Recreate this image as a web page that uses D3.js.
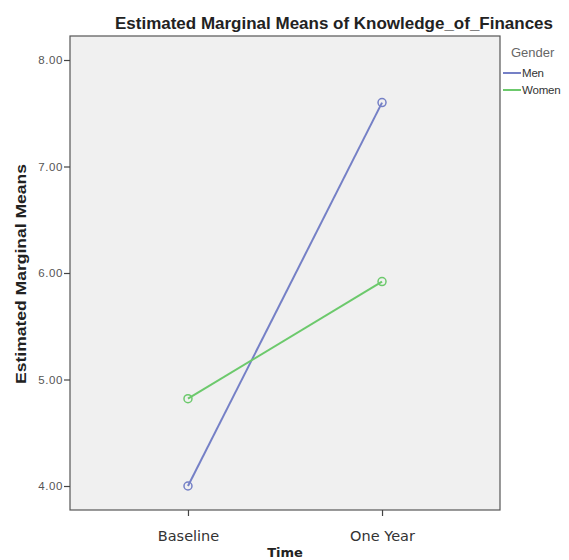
<!DOCTYPE html>
<html><head><meta charset="utf-8">
<script src="https://cdn.jsdelivr.net/npm/d3@7"></script>
<style>body{margin:0;background:#fff;} svg{display:block;}</style>
</head><body>
<script>
const categories = ["Baseline", "One Year"];
const seriesNames = ["Men", "Women"];
const menValues = [4.00, 7.60];
const womenValues = [4.82, 5.92];
const yTicks = [4, 5, 6, 7, 8];
const colors = {Men: "#7580c6", Women: "#6cc96c"};

const W = 569, H = 560;
const frame = {left: 70, right: 500, top: 36, bottom: 510};
const svg = d3.select("body").append("svg").attr("width", W).attr("height", H);

const x = d3.scalePoint().domain(categories).range([frame.left, frame.right]).padding(0.608);
const y = d3.scaleLinear().domain([4, 8]).range([486, 60]);

svg.append("rect").attr("x", frame.left).attr("y", frame.top)
  .attr("width", frame.right - frame.left).attr("height", frame.bottom - frame.top)
  .attr("fill", "#f0f0f0").attr("stroke", "#555").attr("stroke-width", 1.2);

// y axis
const yAxis = svg.append("g").attr("transform", `translate(${frame.left},0)`)
  .call(d3.axisLeft(y).tickValues(yTicks).tickFormat(d3.format(".2f")).tickSize(6).tickSizeOuter(0));
yAxis.select(".domain").remove();
yAxis.selectAll("line").attr("stroke", "#444").attr("stroke-width", 1.2);
yAxis.selectAll("text").attr("fill", "#555").attr("font-family", "Liberation Sans, Arial, sans-serif")
  .attr("font-size", 11.5).attr("x", -7).attr("letter-spacing", "0.6");

// x axis
const xAxis = svg.append("g").attr("transform", `translate(0,${frame.bottom})`)
  .call(d3.axisBottom(x).tickSize(6).tickSizeOuter(0));
xAxis.select(".domain").remove();
xAxis.selectAll("line").attr("stroke", "#444").attr("stroke-width", 1.2);
xAxis.selectAll("text").attr("fill", "#333").attr("font-family", "DejaVu Sans, sans-serif")
  .attr("font-size", 14.5).attr("y", 21);

// lines
const series = [{name: "Men", values: menValues}, {name: "Women", values: womenValues}];
const line = d3.line().x((d, i) => x(categories[i])).y(d => y(d));
series.forEach(s => {
  svg.append("path").datum(s.values).attr("d", line).attr("fill", "none")
    .attr("stroke", colors[s.name]).attr("stroke-width", 2);
  svg.selectAll(null).data(s.values).enter().append("circle")
    .attr("cx", (d, i) => x(categories[i])).attr("cy", d => y(d)).attr("r", 4)
    .attr("fill", "none").attr("stroke", colors[s.name]).attr("stroke-width", 1.5);
});

// title
svg.append("text").attr("x", 334).attr("y", 29).attr("text-anchor", "middle")
  .attr("font-family", "Liberation Sans, Arial, sans-serif").attr("font-weight", "bold")
  .attr("font-size", 17).attr("fill", "#222")
  .attr("textLength", 438).attr("lengthAdjust", "spacingAndGlyphs")
  .text("Estimated Marginal Means of Knowledge_of_Finances");

// axis titles
svg.append("text").attr("transform", "translate(26,274) rotate(-90)").attr("text-anchor", "middle")
  .attr("font-family", "Liberation Sans, Arial, sans-serif").attr("font-weight", "bold")
  .attr("font-size", 14).attr("fill", "#222")
  .attr("textLength", 220).attr("lengthAdjust", "spacingAndGlyphs")
  .text("Estimated Marginal Means");
svg.append("text").attr("x", 285).attr("y", 557).attr("text-anchor", "middle")
  .attr("font-family", "DejaVu Sans, sans-serif").attr("font-weight", "bold")
  .attr("font-size", 13).attr("fill", "#222").text("Time");

// legend
svg.append("text").attr("x", 511).attr("y", 57)
  .attr("font-family", "Liberation Sans, Arial, sans-serif").attr("font-size", 13)
  .attr("fill", "#666").text("Gender");
seriesNames.forEach((n, i) => {
  const ly = 73 + i * 17;
  svg.append("line").attr("x1", 503).attr("x2", 521).attr("y1", ly).attr("y2", ly)
    .attr("stroke", colors[n]).attr("stroke-width", 2);
  svg.append("text").attr("x", 522).attr("y", ly + 4)
    .attr("font-family", "Liberation Sans, Arial, sans-serif").attr("font-size", 11.5)
    .attr("letter-spacing", "-0.2").attr("fill", "#333").text(n);
});
</script>
</body></html>
